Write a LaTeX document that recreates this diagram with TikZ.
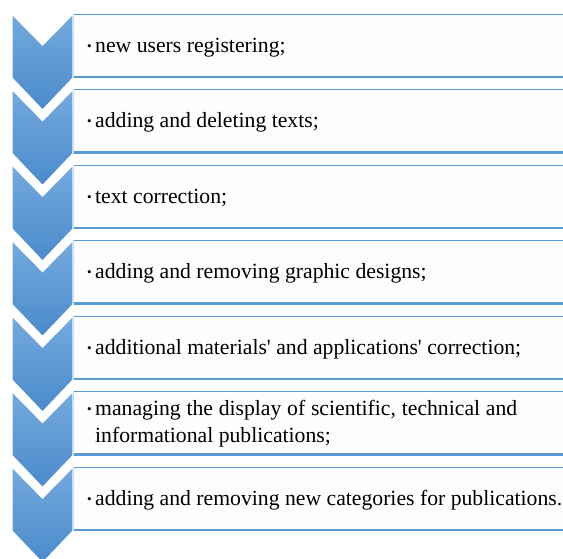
\documentclass[tikz,border=0pt]{standalone}
\usepackage{fontspec}
\setmainfont{Liberation Serif}[Ligatures=TeXOff]
\definecolor{chevtop}{HTML}{74AADE}
\definecolor{chevbot}{HTML}{4A8ACB}
\definecolor{boxline}{HTML}{5B9BD5}
\definecolor{boxfill}{HTML}{FDFDFD}
\newcommand{\bul}{\llap{\raisebox{1.8pt}{\fontsize{13}{13}\selectfont\textbullet}\hspace{3.5pt}}}
\begin{document}
\begin{tikzpicture}[x=1pt,y=-1pt,
  chevron/.style={top color=chevtop, bottom color=chevbot, draw=white, line width=1.2pt},
  listbox/.style={draw=boxline, line width=1pt, fill=boxfill, anchor=north west,
    minimum width=490pt, minimum height=63pt, inner sep=0pt, outer sep=0pt},
  itemtext/.style={anchor=base west, inner sep=0pt, font=\fontsize{21.7}{27}\selectfont}
]
\useasboundingbox (0,0) rectangle (563,558);
\clip (0,0) rectangle (563,558);
\foreach \i in {1,...,7}{
  \pgfmathsetmacro{\t}{14+(\i-1)*75.5}
  \node[listbox] (b\i) at (73,\t) {};
  \draw[boxline, line width=2.2pt] (b\i.south west) -- (b\i.south east);
}
\foreach \i in {1,...,7}{
  \pgfmathsetmacro{\t}{14+(\i-1)*75.5}
  \path[chevron] (12,\t) -- (42.5,\t+31) -- (73,\t) -- (73,\t+64) -- (42.5,\t+96) -- (12,\t+64) -- cycle;
}
\node[itemtext] (t1) at ([xshift=22pt,yshift=-6.5pt]b1.west) {\bul new users registering;};
\node[itemtext] (t2) at ([xshift=22pt,yshift=-6.5pt]b2.west) {\bul adding and deleting texts;};
\node[itemtext] (t3) at ([xshift=22pt,yshift=-6.5pt]b3.west) {\bul text correction;};
\node[itemtext] (t4) at ([xshift=22pt,yshift=-6.5pt]b4.west) {\bul adding and removing graphic designs;};
\node[itemtext] (t5) at ([xshift=22pt,yshift=-6.5pt]b5.west) {\bul additional materials' and applications' correction;};
\node[itemtext, text width=422pt, align=justify] (t6) at ([xshift=22pt,yshift=8pt]b6.west)
  {\bul managing the display of scientific, technical and\linebreak informational publications;};
\node[itemtext] (t7) at ([xshift=22pt,yshift=-6.5pt]b7.west) {\bul adding and removing new categories for publications.};
\end{tikzpicture}
\end{document}
